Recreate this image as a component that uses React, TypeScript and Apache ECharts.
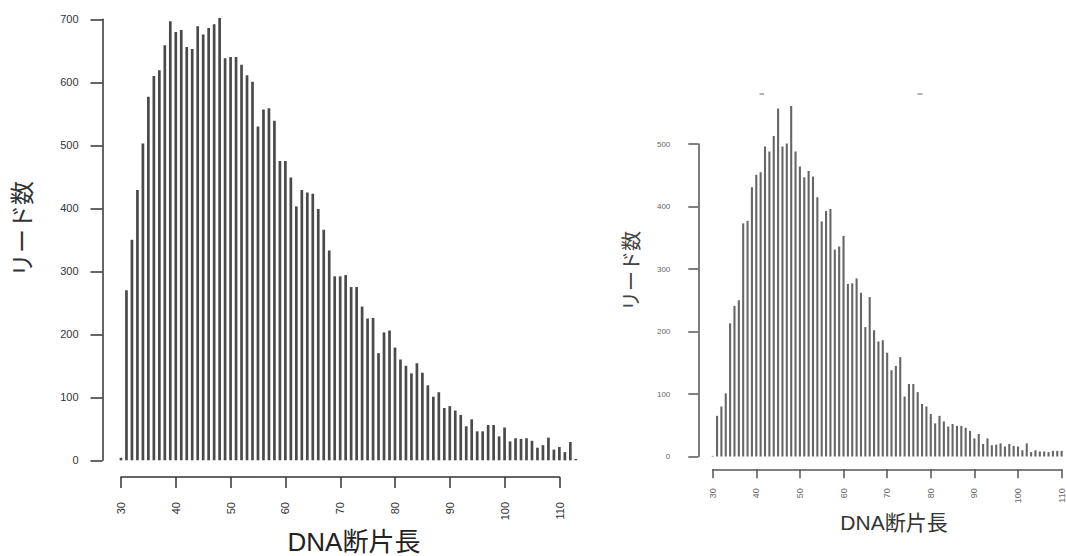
import React, { useEffect, useRef } from "react";
import * as echarts from "echarts";

// Left panel: DNA fragment length (bp) vs read count
const leftLengths = [30,31,32,33,34,35,36,37,38,39,40,41,42,43,44,45,46,47,48,49,50,51,52,53,54,55,56,57,58,59,60,61,62,63,64,65,66,67,68,69,70,71,72,73,74,75,76,77,78,79,80,81,82,83,84,85,86,87,88,89,90,91,92,93,94,95,96,97,98,99,100,101,102,103,104,105,106,107,108,109,110,111,112,113];
const leftCounts = [4,270,350,429,503,577,610,619,659,697,680,683,656,653,689,676,686,692,702,638,640,640,628,611,601,530,557,559,539,475,475,449,403,429,425,423,399,366,333,292,292,294,275,275,244,225,226,170,203,206,179,160,150,138,154,139,119,101,108,83,86,79,72,54,65,46,46,56,56,38,52,30,35,34,35,31,20,24,36,17,21,13,29,2];

// Right panel
const rightLengths = [30,31,32,33,34,35,36,37,38,39,40,41,42,43,44,45,46,47,48,49,50,51,52,53,54,55,56,57,58,59,60,61,62,63,64,65,66,67,68,69,70,71,72,73,74,75,76,77,78,79,80,81,82,83,84,85,86,87,88,89,90,91,92,93,94,95,96,97,98,99,100,101,102,103,104,105,106,107,108,109,110];
const rightCounts = [1,65,80,101,213,241,250,373,377,431,451,455,496,488,513,557,496,501,561,488,464,447,457,448,415,376,393,396,331,336,353,276,277,285,262,207,255,202,184,186,166,138,145,159,96,116,116,103,84,80,68,53,65,56,48,52,49,49,46,41,29,36,20,29,18,19,21,16,20,17,16,10,21,7,10,8,8,7,9,9,9];

const xTitle = "DNA断片長";
const yTitle = "リード数";

const FONT = "'Liberation Sans', Arial, 'Noto Sans CJK JP', sans-serif";

export default function App() {
  const ref = useRef<HTMLDivElement>(null);
  useEffect(() => {
    if (!ref.current) return;
    const chart = echarts.init(ref.current, null, { renderer: "svg" });
    const leftData = leftLengths.map((x, i) => [x, leftCounts[i]]);
    const rightData = rightLengths.map((x, i) => [x, rightCounts[i]]);
    const leftAxisColor = "#333";
    const rightAxisColor = "#555";
    chart.setOption({
      animation: false,
      backgroundColor: "#fff",
      grid: [
        { left: 115.5, top: 19.3, width: 465.8, height: 441 },
        { left: 121, top: 400, width: 438.5, height: 77 },
        { left: 708.3, top: 144, width: 359.4, height: 312.5 },
        { left: 712.7, top: 400, width: 350.6, height: 69.3 },
      ],
      xAxis: [
        { gridIndex: 0, type: "value", min: 29, max: 114, show: false },
        {
          gridIndex: 1, type: "value", min: 30, max: 110, interval: 10,
          axisLine: { show: true, onZero: false, lineStyle: { color: leftAxisColor, width: 1.5 } },
          axisTick: { show: true, length: 11, lineStyle: { color: leftAxisColor, width: 1.5 } },
          axisLabel: { rotate: 90, margin: 25, fontSize: 11, color: "#333", fontFamily: FONT },
          splitLine: { show: false },
        },
        { gridIndex: 2, type: "value", min: 29, max: 111, show: false },
        {
          gridIndex: 3, type: "value", min: 30, max: 110, interval: 10,
          axisLine: { show: true, onZero: false, lineStyle: { color: rightAxisColor, width: 1.5 } },
          axisTick: { show: true, length: 9, lineStyle: { color: rightAxisColor, width: 1.5 } },
          axisLabel: { rotate: 90, margin: 19, fontSize: 9, color: "#666", fontFamily: FONT },
          splitLine: { show: false },
        },
      ],
      yAxis: [
        {
          gridIndex: 0, type: "value", min: 0, max: 700, interval: 100, offset: 13,
          axisLine: { show: true, lineStyle: { color: leftAxisColor, width: 1.5 } },
          axisTick: { show: true, length: 12, lineStyle: { color: leftAxisColor, width: 1.5 } },
          axisLabel: { margin: 24, fontSize: 11, color: "#333", fontFamily: FONT },
          splitLine: { show: false },
        },
        { gridIndex: 1, type: "value", min: 0, max: 1, show: false },
        {
          gridIndex: 2, type: "value", min: 0, max: 500, interval: 100, offset: 10,
          axisLine: { show: true, lineStyle: { color: rightAxisColor, width: 1.5 } },
          axisTick: { show: true, length: 10, lineStyle: { color: rightAxisColor, width: 1.5 } },
          axisLabel: { margin: 28, fontSize: 8, color: "#666", fontFamily: FONT },
          splitLine: { show: false },
        },
        { gridIndex: 3, type: "value", min: 0, max: 1, show: false },
      ],
      series: [
        {
          type: "bar", xAxisIndex: 0, yAxisIndex: 0, data: leftData,
          barWidth: 2.7, clip: false,
          itemStyle: { color: "#4a4a4a" },
        },
        {
          type: "bar", xAxisIndex: 2, yAxisIndex: 2, data: rightData,
          barWidth: 2.1, clip: false,
          itemStyle: { color: "#666" },
        },
      ],
      graphic: [
        {
          type: "text", x: 354, y: 542,
          style: { text: xTitle, fontSize: 26, fill: "#222", fontFamily: FONT, align: "center", verticalAlign: "middle" },
        },
        {
          type: "text", x: 22, y: 229, rotation: Math.PI / 2,
          style: { text: yTitle, fontSize: 24, fill: "#333", fontFamily: FONT, align: "center", verticalAlign: "middle" },
        },
        {
          type: "text", x: 894, y: 522,
          style: { text: xTitle, fontSize: 21, fill: "#333", fontFamily: FONT, align: "center", verticalAlign: "middle" },
        },
        {
          type: "text", x: 632, y: 271, rotation: Math.PI / 2,
          style: { text: yTitle, fontSize: 20, fill: "#444", fontFamily: FONT, align: "center", verticalAlign: "middle" },
        },
        { type: "line", shape: { x1: 759.5, y1: 94, x2: 764, y2: 94 }, style: { stroke: "#999", lineWidth: 1.5 } },
        { type: "line", shape: { x1: 917.5, y1: 94, x2: 922.5, y2: 94 }, style: { stroke: "#999", lineWidth: 1.5 } },
      ],
    });
    return () => chart.dispose();
  }, []);
  return (
    <div
      ref={ref}
      style={{ position: "fixed", left: 0, top: 0, width: 1066, height: 556, background: "#fff" }}
    />
  );
}
